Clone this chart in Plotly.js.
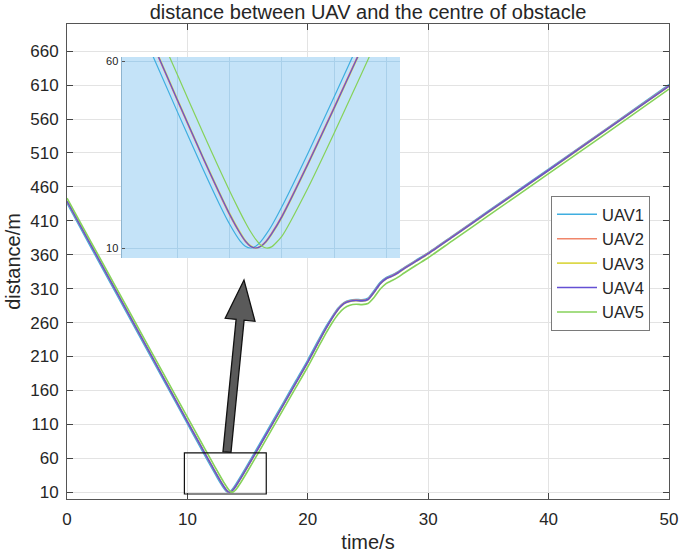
<!DOCTYPE html>
<html>
<head>
<meta charset="utf-8">
<script src="https://cdn.plot.ly/plotly-3.0.1.min.js"></script>
<style>html,body{margin:0;padding:0;background:#fff}#chart{width:685px;height:556px}</style>
</head>
<body>
<div id="chart"></div>
<script>
// ---- data ----
const timeS = [0,2,4,6,8,10,11,12,12.5,12.8,13,13.2,13.3,13.4,13.5,13.6,13.7,13.8,14,14.5,15,16,17,18,19,20,21,21.5,22,22.5,23,23.5,24,24.5,25,25.5,26,26.5,27,27.5,28,29,30,32,35,40,45,50];

const uav1 = [436,370.6,305.7,240.7,175.8,111.0,78.6,46.6,30.9,21.9,16.4,11.9,10.5,10.0,
  10.5,11.8,13.7,15.9,21.1,35.5,50.6,81.2,112.0,142.9,173.9,204.8,238,254,268,281,289.5,293,294,293.5,296,307,319,326,330,335,341,352,363,387.5,424.5,486,548,610.5];

const uav2 = [438.6,373.6,308.6,243.7,178.7,113.9,81.6,49.5,33.7,24.6,18.8,13.8,11.7,10.4,10.0,
  10.6,12.0,14.0,18.7,32.9,47.9,78.4,109.3,140.2,171.1,202.0,235.5,251.5,266.5,279.6,288.6,292.2,293.1,292.7,294.6,305.2,317.6,325.1,329.1,334.1,340.1,351.1,362.1,386.6,423.6,485.1,547.2,609.2];

const uav3 = [439.2,374.2,309.2,244.3,179.3,114.5,82.2,50.1,34.3,25.2,19.4,14.3,12.1,10.7,10.0,
  10.4,11.6,13.5,18.1,32.3,47.3,77.8,108.7,139.6,170.5,201.4,234.6,250.6,265.6,278.6,287.6,291.1,292.1,291.6,293.6,304.1,316.6,324.1,328.1,333.1,339.1,350.1,361.1,385.6,422.6,484.1,546.1,608.1];

const uav4 = [438.9,373.9,308.9,244.0,179.0,114.2,81.9,49.8,34.0,24.9,19.1,14.0,11.9,10.5,10.0,
  10.5,11.8,13.7,18.4,32.6,47.6,78.1,109.0,139.9,170.8,201.7,235,251,266,279,288,291.5,292.5,292,294,304.5,317,324.5,328.5,333.5,339.5,350.5,361.5,386,423,484.5,546.5,608.5];

const uav5 = [443.3,378.7,314.2,249.6,185.0,120.6,88.4,56.5,40.6,31.3,25.3,19.6,16.9,14.4,12.3,10.7,10.0,
  10.3,13.2,26.2,40.9,71.4,102.2,133.1,164.0,194.9,228,244,259,272,281,285.5,287,286.5,288,297,309,317.5,322,327,333,344.5,355.5,380.5,417.5,479.5,541.5,604];

const seriesNames = ['UAV1','UAV2','UAV3','UAV4','UAV5'];
const seriesValues = [uav1, uav2, uav3, uav4, uav5];
const seriesColors = ['#3FAEE0','#F0866A','#DCD84A','#6450D4','#86D25A'];

const yTickStart = 10, yTickStep = 50;
const xTickStep = 10;
const insetYTicks = [10, 60];
const insetXGrid = [12, 13, 14, 15, 16];

// ---- layout geometry ----
const W = 685, H = 556, L = 67, R = 16, T = 24, B = 57;
const pw = W - L - R, ph = H - T - B;
const px2x = p => (p - L) / pw;
const py2y = p => (H - B - p) / ph;

const traces = [];
seriesNames.forEach((n, i) => {
  traces.push({x: timeS, y: seriesValues[i], name: n, type: 'scatter', mode: 'lines',
    line: {color: seriesColors[i], width: 1.6, shape: 'spline', smoothing: 0.6},
    xaxis: 'x', yaxis: 'y'});
});
seriesNames.forEach((n, i) => {
  traces.push({x: timeS, y: seriesValues[i], name: n, type: 'scatter', mode: 'lines',
    line: {color: seriesColors[i], width: 1.2, shape: 'spline', smoothing: 0.6},
    xaxis: 'x2', yaxis: 'y2', showlegend: false, hoverinfo: 'skip'});
});

const insetX = [10.95, 16.25], insetY = [7.33, 61.07];

// arrow polygon in pixel space
const arrowPts = [[223,451.6],[236.1,319.4],[225.2,318.3],[244,280],[255,321.3],[244.1,320.2],[231,452.4]];
const arrowPath = 'M' + arrowPts.map(p => px2x(p[0]).toFixed(4) + ',' + py2y(p[1]).toFixed(4)).join(' L') + ' Z';

const fam = 'Liberation Sans, Arial, sans-serif';
const font = {family: fam, color: '#262626'};

const layout = {
  width: W, height: H,
  margin: {l: L, r: R, t: T, b: B},
  paper_bgcolor: '#ffffff', plot_bgcolor: '#ffffff',
  font: Object.assign({size: 17}, font),
  title: {text: 'distance between UAV and the centre of obstacle', font: Object.assign({size: 20}, font),
    x: 0.5, xref: 'paper', y: 1 - 12 / H, yref: 'container', yanchor: 'middle'},
  showlegend: true,
  legend: {x: px2x(551), y: py2y(196), xanchor: 'left', yanchor: 'top', bgcolor: '#ffffff',
    bordercolor: '#7a7a7a', borderwidth: 1, font: Object.assign({size: 16.5}, font), tracegroupgap: 0,
    itemwidth: 40},
  xaxis: {domain: [0, 1], range: [0, 50], dtick: xTickStep, tick0: 0, ticks: 'inside', ticklen: 6,
    tickcolor: '#444', showline: true, linecolor: '#555', linewidth: 1, mirror: 'ticks',
    showgrid: true, gridcolor: '#E3E3E3', zeroline: false, ticklabelstandoff: 5,
    tickfont: Object.assign({size: 17}, font),
    title: {text: 'time/s', font: Object.assign({size: 20}, font), standoff: 6}},
  yaxis: {domain: [0, 1], range: [0, 700], tick0: yTickStart, dtick: yTickStep, ticks: 'inside', ticklen: 6,
    tickcolor: '#444', showline: true, linecolor: '#555', linewidth: 1, mirror: 'ticks',
    showgrid: true, gridcolor: '#E3E3E3', zeroline: false, ticklabelstandoff: 4,
    tickfont: Object.assign({size: 17}, font),
    title: {text: 'distance/m', font: Object.assign({size: 20}, font), standoff: 4}},
  xaxis2: {domain: [px2x(122), px2x(400)], range: insetX, anchor: 'y2', tickmode: 'array', tickvals: insetXGrid,
    showticklabels: false, ticks: '', showgrid: true, gridcolor: '#A9D0EA', gridwidth: 1, zeroline: false, showline: false},
  yaxis2: {domain: [py2y(258), py2y(57)], range: insetY, anchor: 'x2', tickmode: 'array', tickvals: insetYTicks,
    ticks: 'inside', ticklen: 3, tickcolor: '#555', showgrid: true, gridcolor: '#A9D0EA', zeroline: false,
    showline: true, linecolor: '#8EB4CF', linewidth: 1.5,
    tickfont: {family: fam, size: 11, color: '#222'}},
  shapes: [
    {type: 'rect', xref: 'x2', yref: 'y2', x0: insetX[0], x1: insetX[1], y0: insetY[0], y1: insetY[1],
      fillcolor: '#C4E3F8', line: {width: 0}, layer: 'below'},
    {type: 'rect', xref: 'x', yref: 'y', x0: 9.75, x1: 16.55, y0: 7.4, y1: 68,
      line: {color: '#111', width: 1.2}, fillcolor: 'rgba(0,0,0,0)', layer: 'above'},
    {type: 'path', xref: 'paper', yref: 'paper', path: arrowPath, fillcolor: '#5a5a5a',
      line: {color: '#111', width: 1.3}, layer: 'above'}
  ]
};

Plotly.newPlot('chart', traces, layout, {displayModeBar: false, staticPlot: true});
</script>
</body>
</html>
